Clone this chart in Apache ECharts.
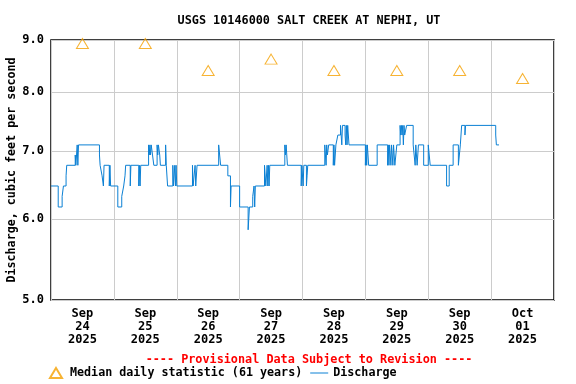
<!DOCTYPE html>
<html>
<head>
<meta charset="utf-8">
<script src="https://cdn.jsdelivr.net/npm/echarts@6/dist/echarts.min.js"></script>
<style>
html,body{margin:0;padding:0;background:#fff;}
#chart{width:576px;height:384px;}
</style>
</head>
<body>
<div id="chart"></div>
<script>
// Hours since 2025-09-24 00:00 (value holds until next entry)
const hours = [0,2.75,4.25,4.75,5.75,6,9.25,9.5,9.75,10,10.25,10.5,18.5,18.75,19.5,20,20.25,22.25,22.5,22.75,
25.5,27,27.75,28.25,28.5,30.25,30.5,33.5,33.75,34,34.25,37.25,37.5,37.75,38,38.25,38.75,39.25,40.5,40.75,41,41.5,41.75,43.75,44,44.5,46.5,46.75,47.25,47.5,47.75,
48,54,54.25,55,55.25,55.75,64,64.75,67.5,68.5,68.75,72,75.25,75.75,77,77.5,77.75,78,81.5,82,82.5,82.75,83,83.25,83.5,89.25,89.5,89.75,90.25,95.5,95.75,
96.25,96.5,97.5,97.75,98,104.5,104.75,105,105.25,105.5,106,107.75,108,108.25,108.75,109.5,110.5,111,111.25,112.25,112.5,112.75,113,113.25,113.75,
120,120.25,120.5,120.75,121,121.25,124.5,128.5,128.75,129,129.25,129.75,130,130.5,130.75,131.25,132,133.25,133.5,133.75,134,134.25,134.5,134.75,135,135.75,138.25,139,139.25,139.75,140.25,142.25,
144,144.75,151,152,153.5,155.5,156.25,156.75,158,158.25,169.75,170,171];
const flows = [6.47,6.17,6.32,6.47,6.62,6.78,6.94,6.78,6.94,7.10,6.78,7.10,6.94,6.78,6.62,6.47,6.78,6.47,6.78,6.47,
6.17,6.32,6.47,6.62,6.78,6.47,6.78,6.47,6.78,6.47,6.78,7.10,6.94,7.10,6.94,7.10,6.94,6.78,7.10,6.94,7.10,6.94,6.78,7.10,6.78,6.47,6.78,6.47,6.78,6.47,6.78,
6.47,6.78,6.47,6.78,6.47,6.78,7.10,6.78,6.62,6.17,6.47,6.17,5.86,6.17,6.32,6.47,6.17,6.47,6.78,6.47,6.78,6.47,6.78,6.47,6.78,7.10,6.94,7.10,6.78,6.47,6.78,
6.47,6.78,6.47,6.62,6.78,7.10,6.94,6.78,7.10,6.94,7.10,6.78,7.10,6.78,7.10,7.26,7.42,7.10,7.42,7.26,7.10,7.42,7.10,7.42,7.10,
6.78,7.10,6.78,7.10,6.94,6.78,7.10,6.78,7.10,6.78,7.10,6.78,7.10,6.78,7.10,6.78,7.10,7.42,7.26,7.42,7.26,7.42,7.10,7.42,7.26,7.42,7.10,6.78,7.10,6.78,7.10,6.78,
7.10,6.78,6.47,6.78,7.10,6.78,7.10,7.42,7.26,7.42,7.26,7.10,7.10];

// Median daily statistic, plotted at noon of each day
const medianHours = [12,36,60,84,108,132,156,180];
const medianValues = [8.93,8.93,8.4,8.62,8.4,8.4,8.4,8.25];

// Axis labels
const dayLabelHours = [12,36,60,84,108,132,156,180];
const dayLabels = ['Sep\n24\n2025','Sep\n25\n2025','Sep\n26\n2025','Sep\n27\n2025','Sep\n28\n2025','Sep\n29\n2025','Sep\n30\n2025','Oct\n01\n2025'];
const yTicks = [5,6,7,8,9];

const FONT = 'DejaVu Sans Mono';
const chart = echarts.init(document.getElementById('chart'), null, {renderer:'canvas'});
chart.setOption({
  animation:false,
  backgroundColor:'#fff',
  title:[
    {text:'USGS 10146000 SALT CREEK AT NEPHI, UT', left:304, top:10, textAlign:'center',
     textStyle:{fontFamily:FONT,fontWeight:'bold',fontSize:11.8,color:'#000'}},
    {text:'---- Provisional Data Subject to Revision ----', left:304, top:349, textAlign:'center',
     textStyle:{fontFamily:FONT,fontWeight:'bold',fontSize:11.8,color:'#ff0000'}}
  ],
  grid:{left:51,right:22,top:40,bottom:84,show:true,borderColor:'#000',borderWidth:1.5,
    backgroundColor:'transparent',containLabel:false,outerBoundsMode:'none'},
  legend:{left:44,top:362,itemGap:8,itemWidth:18,itemHeight:10,
    textStyle:{fontFamily:FONT,fontWeight:'bold',fontSize:11.7,color:'#000'},
    data:[{name:'Median daily statistic (61 years)',icon:'path://M6,0L12,10L0,10Z'},
          {name:'Discharge',icon:'path://M0,0H18V1H0Z'}]},
  xAxis:{type:'value',min:0,max:192,interval:24,
    axisLine:{show:false},axisTick:{show:false},
    splitLine:{show:true,lineStyle:{color:'#cccccc',width:1}},
    axisLabel:{customValues:dayLabelHours,
      formatter:function(v){return dayLabels[Math.round((v-12)/24)];},
      fontFamily:FONT,fontWeight:'bold',fontSize:12,color:'#000',lineHeight:13,margin:7}},
  yAxis:{type:'log',logBase:10,min:5,max:9,
    axisLine:{show:false},axisTick:{show:false,customValues:yTicks},
    splitLine:{show:true,lineStyle:{color:'#cccccc',width:1}},
    axisLabel:{customValues:yTicks,formatter:function(v){return Number(v).toFixed(1);},
      fontFamily:FONT,fontWeight:'bold',fontSize:12,color:'#000',margin:7},
    name:'Discharge, cubic feet per second',nameLocation:'middle',nameGap:33,nameMoveOverlap:false,
    nameTextStyle:{fontFamily:FONT,fontWeight:'bold',fontSize:11.7,color:'#000'}},
  series:[
    {type:'scatter',name:'Median daily statistic (61 years)',
     data:medianHours.map(function(h,i){return [h,medianValues[i]];}),
     symbol:'triangle',symbolSize:[12,10],
     itemStyle:{color:'rgba(255,255,255,0)',borderColor:'#f5a000',borderWidth:1},z:4},
    {type:'line',name:'Discharge',
     data:hours.map(function(h,i){return [h,flows[i]];}),
     step:'end',symbol:'none',showSymbol:false,
     lineStyle:{color:'#0b80d4',width:1},itemStyle:{color:'#0b80d4'},z:3}
  ]
});
</script>
</body>
</html>
